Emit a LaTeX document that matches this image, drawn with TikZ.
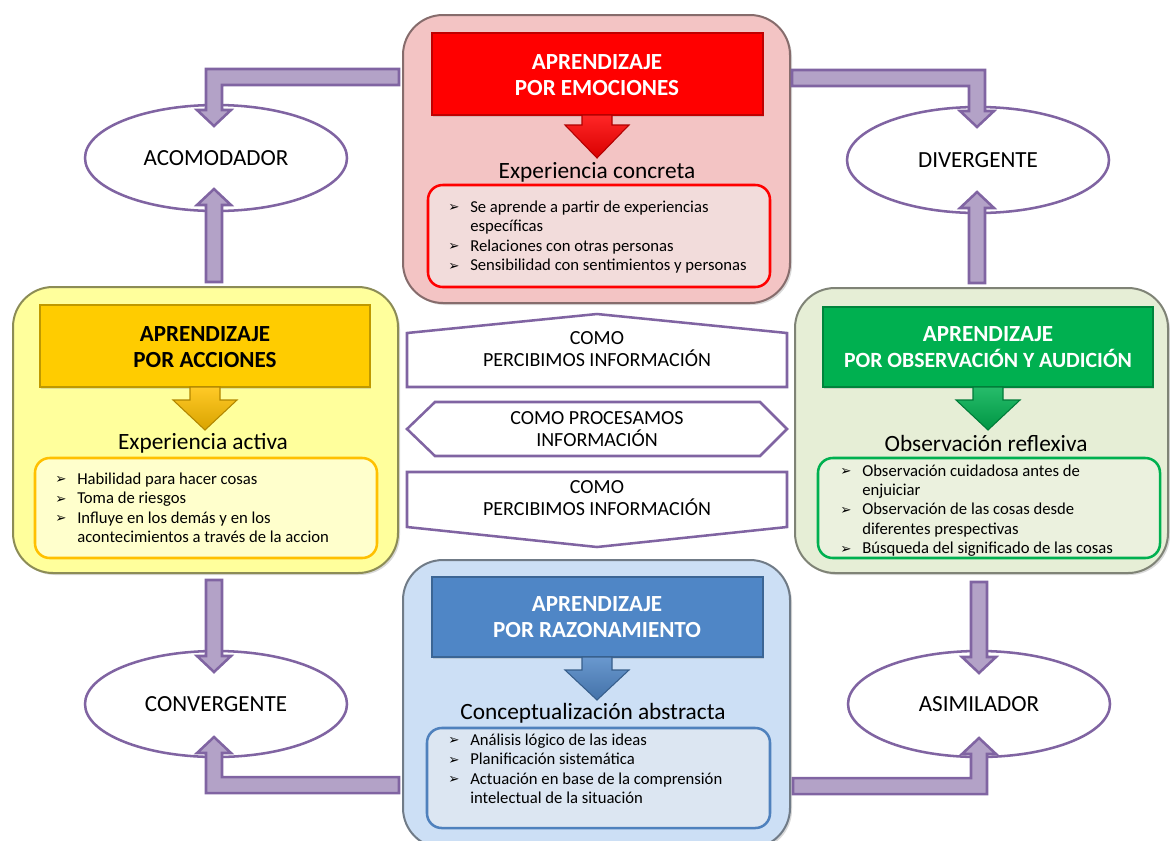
\documentclass[tikz,border=0pt]{standalone}
\usepackage{fontspec}
\setmainfont{Carlito}
\newfontfamily\symfont{DejaVu Sans}
\usetikzlibrary{shapes.geometric,fit,shadows}

\definecolor{pinkbg}{HTML}{F3C4C4}
\definecolor{pinkin}{HTML}{F2DCDB}
\definecolor{redt}{HTML}{FF0000}
\definecolor{yelbg}{HTML}{FFFF9C}
\definecolor{yelt}{HTML}{FFCC00}
\definecolor{yelin}{HTML}{FFFFCC}
\definecolor{yelline}{HTML}{FFC000}
\definecolor{grnbg}{HTML}{E6EED6}
\definecolor{grnt}{HTML}{00B050}
\definecolor{grnin}{HTML}{EBF1DE}
\definecolor{blubg}{HTML}{CCDFF5}
\definecolor{blut}{HTML}{4F86C6}
\definecolor{bluin}{HTML}{DCE6F2}
\definecolor{bluline}{HTML}{4F81BD}
\definecolor{purp}{HTML}{8064A2}
\definecolor{lav}{HTML}{B3A2C7}

% bullet and hanging indent for the lists
\newcommand\bul{\makebox[16.5pt][l]{\raisebox{0.3pt}{\symfont\fontsize{10}{10}\selectfont ➢}}}
\newcommand\ind{\hspace*{16.5pt}}

% straight block arrow: x, start y, tip y
\newcommand\blkV[3]{%
  \pgfmathsetmacro\sgy{(#3<#2)?-1:1}%
  \path[blk] ({#1-8},#2) -- ({#1-8},{#3-16*(\sgy)}) -- ({#1-17},{#3-16*(\sgy)})
    -- (#1,#3) -- ({#1+17},{#3-16*(\sgy)}) -- ({#1+8},{#3-16*(\sgy)}) -- ({#1+8},#2) -- cycle;}

% bent block arrow: start x, start y, corner x, tip y
\newcommand\blkBent[4]{%
  \pgfmathsetmacro\sgx{(#3<#1)?-1:1}%
  \pgfmathsetmacro\sgy{(#4<#2)?-1:1}%
  \path[blk] (#1,{#2-8*(\sgy)}) -- ({#3+8*(\sgx)},{#2-8*(\sgy)}) -- ({#3+8*(\sgx)},{#4-16*(\sgy)})
    -- ({#3+17*(\sgx)},{#4-16*(\sgy)}) -- (#3,#4) -- ({#3-17*(\sgx)},{#4-16*(\sgy)})
    -- ({#3-8*(\sgx)},{#4-16*(\sgy)}) -- ({#3-8*(\sgx)},{#2+8*(\sgy)}) -- (#1,{#2+8*(\sgy)}) -- cycle;}

% small downward arrow under a title: x, top y, head base y, tip y, colour
\newcommand\hdArrow[5]{%
  \path[top color=#5!85!white, bottom color=#5!85!black, draw=#5!70!black, line width=0.8pt, line join=miter]
    ({#1-15},#2) -- ({#1-15},#3) -- ({#1-32},#3) -- (#1,#4) -- ({#1+32},#3) -- ({#1+15},#3) -- ({#1+15},#2) -- cycle;}

\begin{document}
\begin{tikzpicture}[x=0.75pt,y=-0.75pt,
  obox/.style={rounded corners=30pt, inner sep=0, line width=1.5pt,
    drop shadow={opacity=0.3,shadow xshift=1.5pt,shadow yshift=-1.5pt}},
  tbox/.style={inner sep=0, line width=1pt,
    drop shadow={opacity=0.25,shadow xshift=1pt,shadow yshift=-1.5pt}},
  lbox/.style={rounded corners=11pt, inner sep=0, line width=1.9pt},
  ttl/.style={align=center, font=\bfseries\fontsize{17.3}{19.5}\selectfont},
  hd/.style={inner sep=0, font=\fontsize{17.5}{20}\selectfont},
  li/.style={anchor=base west, inner sep=0, font=\fontsize{12.5}{15}\selectfont},
  ell/.style={ellipse, draw=purp, line width=1.9pt, fill=white, inner sep=0,
    minimum width=196.5pt, minimum height=79.5pt, font=\fontsize{17.3}{20}\selectfont},
  mid/.style={draw=purp, line width=1.9pt, fill=white, line join=miter},
  midtxt/.style={align=center, inner sep=0, font=\fontsize{15}{16.5}\selectfont},
  blk/.style={fill=lav, draw=purp, line width=1.9pt, line join=miter},
]
\useasboundingbox (0,0) rectangle (1170,840);
\clip (0,0) rectangle (1170,840);

% ---------- four learning boxes ----------
\node[obox, fill=pinkbg, draw=pinkbg!55!black, fit={(403,15)(790,303)}] (emo) {};
\node[obox, fill=yelbg, draw=yelbg!55!black, fit={(13,287)(398,573)}] (acc) {};
\node[obox, fill=grnbg, draw=grnbg!55!black, fit={(795,288)(1168,573)}] (obs) {};
\node[obox, fill=blubg, draw=blubg!55!black, fit={(403,560)(790,848)}] (raz) {};

% title bars
\node[tbox, fill=redt, draw=redt!75!black, fit={(432,33)(763,115)}] (emoBar) {};
\node[tbox, fill=yelt, draw=yelt!75!black, fit={(40,305)(370,387)}] (accBar) {};
\node[tbox, fill=grnt, draw=grnt!75!black, fit={(823,307)(1153,387)}] (obsBar) {};
\node[tbox, fill=blut, draw=blut!75!black, fit={(432,577)(763,657)}] (razBar) {};

\node[ttl, text=white] (emoT) at (597,75) {APRENDIZAJE\\POR EMOCIONES};
\node[ttl, text=black] (accT) at (205,347) {APRENDIZAJE\\POR ACCIONES};
\node[ttl, text=white] (obsT) at (988,347) {APRENDIZAJE\\{\fontsize{16.3}{19.5}\selectfont POR OBSERVACIÓN Y AUDICIÓN}};
\node[ttl, text=white] (razT) at (597,617) {APRENDIZAJE\\POR RAZONAMIENTO};

\hdArrow{597}{115}{125}{158}{redt}
\hdArrow{205}{387}{400}{430}{yelline}
\hdArrow{988}{387}{400}{430}{grnt}
\hdArrow{597}{657}{670}{700}{blut}

% subtitles
\node[hd] (emoH) at (597,172) {Experiencia concreta};
\node[hd] (accH) at (203,443) {Experiencia activa};
\node[hd] (obsH) at (986,443) {Observación reflexiva};
\node[hd] (razH) at (593,713) {Conceptualización abstracta};

% list boxes
\node[lbox, fill=pinkin, draw=redt, fit={(428,185)(770,287)}] (emoL) {};
\node[lbox, fill=yelin, draw=yelline, fit={(35,458)(377,558)}] (accL) {};
\node[lbox, fill=grnin, draw=grnt, fit={(818,458)(1160,558)}] (obsL) {};
\node[lbox, fill=bluin, draw=bluline, fit={(427,728)(770,828)}] (razL) {};

% list texts
\node[li] (e1) at (448,212) {\bul Se aprende a partir de experiencias};
\node[li] (e2) at (448,231.6) {\ind específicas};
\node[li] (e3) at (448,251.2) {\bul Relaciones con otras personas};
\node[li] (e4) at (448,270.8) {\bul Sensibilidad con sentimientos y personas};

\node[li] (a1) at (55,484) {\bul Habilidad para hacer cosas};
\node[li] (a2) at (55,503.6) {\bul Toma de riesgos};
\node[li] (a3) at (55,523.2) {\bul Influye en los demás y en los};
\node[li] (a4) at (55,542.8) {\ind acontecimientos a través de la accion};

\node[li] (o1) at (840,476) {\bul Observación cuidadosa antes de};
\node[li] (o2) at (840,495.4) {\ind enjuiciar};
\node[li] (o3) at (840,514.8) {\bul Observación de las cosas desde};
\node[li] (o4) at (840,534.2) {\ind diferentes prespectivas};
\node[li] (o5) at (840,553.6) {\bul Búsqueda del significado de las cosas};

\node[li] (r1) at (448,745) {\bul Análisis lógico de las ideas};
\node[li] (r2) at (448,764.6) {\bul Planificación sistemática};
\node[li] (r3) at (448,784.2) {\bul Actuación en base de la comprensión};
\node[li] (r4) at (448,803.8) {\ind intelectual de la situación};

% ---------- central banners ----------
\path[mid] (407,387) -- (407,333) -- (597,314) -- (787,333) -- (787,387) -- cycle;
\node[midtxt] (per1) at (597,349) {COMO\\PERCIBIMOS INFORMACIÓN};
\path[mid] (407,429) -- (435,402) -- (760,402) -- (787,429) -- (760,456) -- (435,456) -- cycle;
\node[midtxt] (pro) at (597,429) {COMO PROCESAMOS\\INFORMACIÓN};
\path[mid] (407,472) -- (787,472) -- (787,527) -- (597,547) -- (407,527) -- cycle;
\node[midtxt] (per2) at (597,498) {COMO\\PERCIBIMOS INFORMACIÓN};

% ---------- learning styles ----------
\node[ell] (acom) at (216,158) {ACOMODADOR};
\node[ell] (div) at (978,160) {DIVERGENTE};
\node[ell] (conv) at (216,704) {CONVERGENTE};
\node[ell] (asim) at (979,704) {ASIMILADOR};

% ---------- block arrows ----------
\blkBent{399}{77}{214}{126}
\blkBent{792}{78}{977}{127}
\blkBent{399}{785}{214}{737}
\blkBent{793}{786}{979}{738}
\blkV{214}{282}{189}
\blkV{977}{283}{192}
\blkV{214}{580}{672}
\blkV{979}{582}{673}
\end{tikzpicture}
\end{document}
